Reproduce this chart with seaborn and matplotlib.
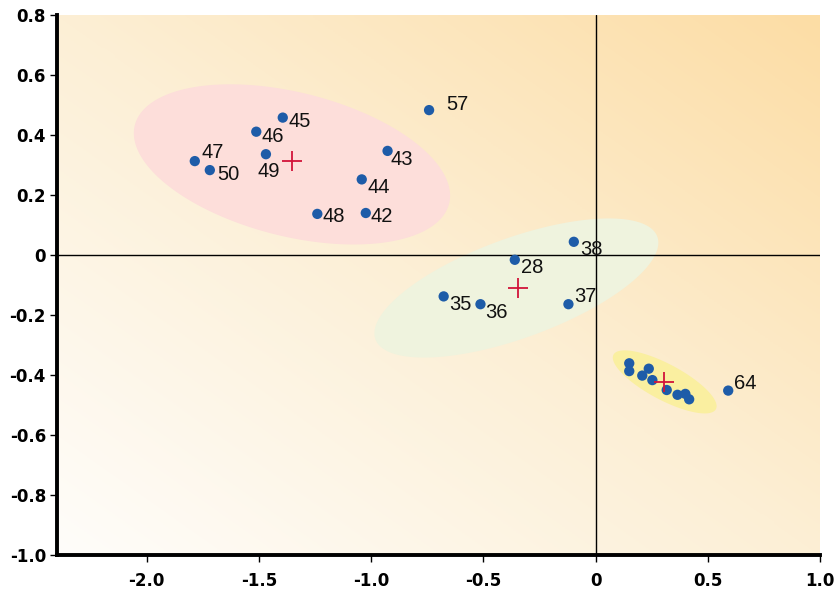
import numpy as np
import matplotlib
matplotlib.use("Agg")
import matplotlib.pyplot as plt
from matplotlib.colors import LinearSegmentedColormap
from matplotlib.patches import Polygon
import pandas as pd
import seaborn as sns

# sample scores
labels = ["42", "43", "44", "45", "46", "47", "48", "49", "50", "57",
          "28", "35", "36", "37", "38",
          "", "", "", "", "", "", "", "", "", "64"]
pc1 = [-1.024, -0.927, -1.042, -1.394, -1.512, -1.786, -1.240, -1.469, -1.719, -0.742,
       -0.360, -0.677, -0.513, -0.121, -0.097,
       0.150, 0.150, 0.237, 0.208, 0.253, 0.317, 0.365, 0.400, 0.417, 0.591]
pc2 = [0.140, 0.347, 0.252, 0.458, 0.411, 0.313, 0.137, 0.336, 0.283, 0.483,
       -0.016, -0.138, -0.164, -0.164, 0.044,
       -0.361, -0.387, -0.379, -0.402, -0.417, -0.450, -0.466, -0.463, -0.481, -0.452]

# group centroids (red crosses)
cent_x = [-1.351, -0.347, 0.304]
cent_y = [0.313, -0.111, -0.424]

xticks = [-2.0, -1.5, -1.0, -0.5, 0, 0.5, 1.0]
xtick_labels = ["-2.0", "-1.5", "-1.0", "-0.5", "0", "0.5", "1.0"]
yticks = [0.8, 0.6, 0.4, 0.2, 0, -0.2, -0.4, -0.6, -0.8, -1.0]
ytick_labels = ["0.8", "0.6", "0.4", "0.2", "0", "-0.2", "-0.4", "-0.6", "-0.8", "-1.0"]

# label placement, in pixels from the dot (dx, dy up)
label_offset = {
    "42": (5, -4), "43": (3, -9), "44": (6, -8), "45": (6, -4), "46": (5, -5),
    "47": (7, 9), "48": (5, -3), "49": (3, -17), "50": (7, -4), "57": (17, 6),
    "28": (6, -8), "35": (6, -8), "36": (5, -8), "37": (6, 8), "38": (6, -8),
    "64": (6, 7),
}

# group ellipses: centre (data), semi-axes (px), angle (deg), colour
ellipses = [
    (-1.353, 0.302, 162, 72, -14, "#FDDEDA"),
    (-0.353, -0.110, 150, 50, 20, "#EFF3DE"),
    (0.308, -0.423, 58, 18, -28, "#FAEFA0"),
]

df = pd.DataFrame({"pc1": pc1, "pc2": pc2, "label": labels})
cent = pd.DataFrame({"pc1": cent_x, "pc2": cent_y})

sns.set_style("ticks")
plt.rcParams["font.family"] = ["Liberation Sans", "DejaVu Sans"]

fig = plt.figure(figsize=(8.37, 5.93), dpi=100)
ax = fig.add_axes([57 / 837, 38 / 593, 763 / 837, 540 / 593])
xlim = (-2.4, 1.0)
ylim = (-1.0, 0.8)
ax.set_xlim(*xlim)
ax.set_ylim(*ylim)

# gradient background
gx, gy = np.meshgrid(np.linspace(0, 1, 300), np.linspace(0, 1, 300))
grad = (gx + gy) / 2
cmap = LinearSegmentedColormap.from_list("bg", ["#FFFDFA", "#FCEFD5", "#FDDDA5"])
ax.imshow(grad, cmap=cmap, origin="lower", extent=(*xlim, *ylim),
          aspect="auto", zorder=0, interpolation="bilinear")

sx = ax.bbox.width / (xlim[1] - xlim[0])
sy = ax.bbox.height / (ylim[1] - ylim[0])
t = np.linspace(0, 2 * np.pi, 300)
for cx, cy, a, b, ang, col in ellipses:
    r = np.deg2rad(ang)
    dx = a * np.cos(t) * np.cos(r) - b * np.sin(t) * np.sin(r)
    dy = a * np.cos(t) * np.sin(r) + b * np.sin(t) * np.cos(r)
    ax.add_patch(Polygon(np.column_stack([cx + dx / sx, cy + dy / sy]),
                         closed=True, fc=col, ec="none", zorder=1))

ax.axhline(0, color="black", lw=1, zorder=2)
ax.axvline(0, color="black", lw=1, zorder=2)

sns.scatterplot(data=df, x="pc1", y="pc2", ax=ax, color="#1E5CA8", s=55,
                edgecolor="none", zorder=4)
sns.scatterplot(data=cent, x="pc1", y="pc2", ax=ax, color="#D2143A", marker="+",
                s=220, linewidth=1.3, zorder=5)

for _, row in df.iterrows():
    if not row["label"]:
        continue
    ox, oy = label_offset[row["label"]]
    ax.annotate(row["label"], (row["pc1"], row["pc2"]), xytext=(ox, oy),
                textcoords="offset pixels", ha="center" if row["label"] == "49" else "left",
                va="center", fontsize=14.5, color="#111111", zorder=6)

tick_font = dict(family="DejaVu Sans", fontweight="bold", fontsize=12)
ax.set_xticks(xticks)
ax.set_xticklabels(xtick_labels, **tick_font)
ax.set_yticks(yticks)
ax.set_yticklabels(ytick_labels, **tick_font)
ax.tick_params(direction="out", length=5, width=1, colors="black")
ax.tick_params(axis="x", pad=7)
ax.tick_params(axis="y", pad=3)
ax.set_xlabel("")
ax.set_ylabel("")
for side in ["top", "right"]:
    ax.spines[side].set_visible(False)
for side in ["left", "bottom"]:
    ax.spines[side].set_linewidth(2.8)
    ax.spines[side].set_color("black")

fig.savefig("out.png", dpi=100)
